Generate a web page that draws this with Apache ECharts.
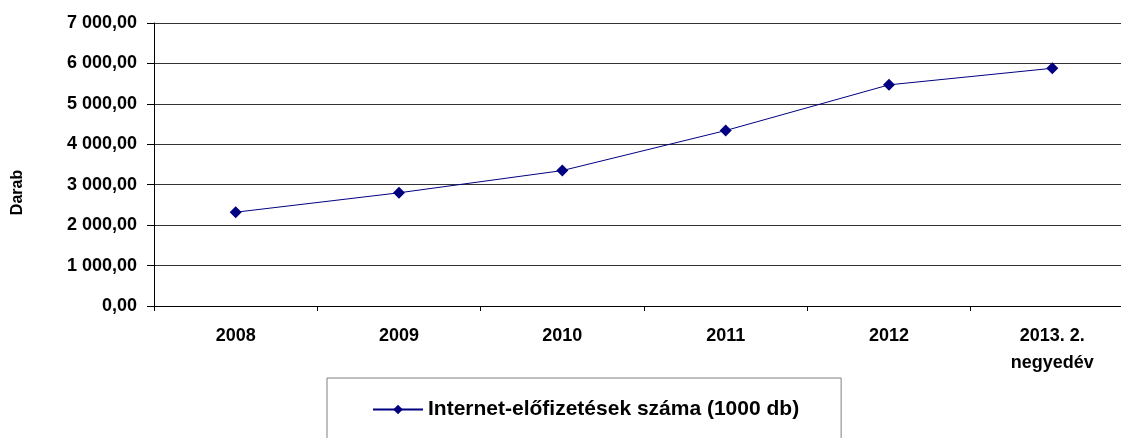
<!DOCTYPE html>
<html><head><meta charset="utf-8">
<script src="https://cdn.jsdelivr.net/npm/echarts@6/dist/echarts.min.js"></script>
<style>html,body{margin:0;padding:0;background:#fff}#c{width:1121px;height:438px}</style>
</head><body><div id="c"></div>
<script>
const categories = ['2008', '2009', '2010', '2011', '2012', '2013. 2.\nnegyedév'];
const values = [2320, 2800, 3350, 4340, 5470, 5880];
const seriesName = 'Internet-előfizetések száma (1000 db)';
const yAxisName = 'Darab';
const FONT = '"Liberation Sans",Arial,sans-serif';

function fmt(v){
  const s = Math.round(v).toString().replace(/\B(?=(\d{3})+(?!\d))/g, ' ');
  return s + ',00';
}
const chart = echarts.init(document.getElementById('c'), null, {renderer:'canvas'});
chart.setOption({
  animation:false,
  grid:{left:154, top:23, width:980, height:283, containLabel:false, outerBoundsMode:'none'},
  xAxis:{type:'category', data:categories, boundaryGap:true,
    axisLine:{lineStyle:{color:'#000', width:1}},
    axisTick:{show:true, length:5, lineStyle:{color:'#000'}},
    axisLabel:{color:'#000', fontFamily:FONT, fontWeight:'bold', fontSize:18, margin:17, lineHeight:27}
  },
  yAxis:{type:'value', min:0, max:7000, interval:1000,
    name:yAxisName, nameLocation:'middle', nameGap:128, nameRotate:90,
    nameTextStyle:{color:'#000', fontFamily:FONT, fontWeight:'bold', fontSize:16, padding:[0,56,0,0]},
    axisLine:{show:true, lineStyle:{color:'#000'}},
    axisTick:{show:true, length:7, lineStyle:{color:'#000'}},
    splitLine:{show:true, lineStyle:{color:'#333', width:1}},
    axisLabel:{color:'#000', fontFamily:FONT, fontWeight:'bold', fontSize:18, margin:17, formatter:fmt}
  },
  legend:{show:true, left:327, top:378,
    borderColor:'#808080', borderWidth:1, padding:[21,42,40,45],
    itemWidth:50, itemHeight:12, itemGap:10,
    textStyle:{color:'#000', fontFamily:FONT, fontWeight:'bold', fontSize:21},
    data:[seriesName]
  },
  series:[{name:seriesName, type:'line', data:values,
    symbol:'diamond', symbolSize:12,
    lineStyle:{color:'#000080', width:1},
    itemStyle:{color:'#000080'}
  }]
});
</script></body></html>
